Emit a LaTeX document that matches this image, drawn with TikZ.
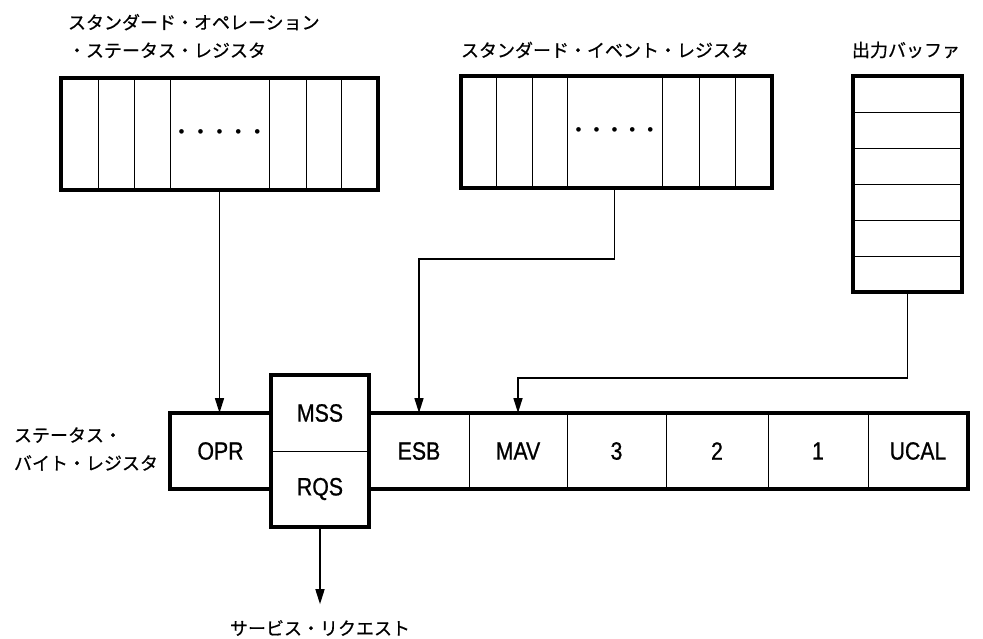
\documentclass[tikz,border=0pt]{standalone}
\usepackage{fontspec}
\setmainfont{Liberation Sans}
\newfontfamily\regfont[FakeStretch=0.85, FakeBold=0.8]{Liberation Sans}
\newfontfamily\jpfont[FakeBold=0.6]{Noto Sans CJK JP}
\usetikzlibrary{positioning, fit, arrows.meta}

\begin{document}
\begin{tikzpicture}[
        x=1pt, y=-1pt,
        node distance=0pt,
        every node/.style={inner sep=0pt, outer sep=0pt},
        bit/.style={draw, line width=0.9pt, minimum height=112pt},
        row/.style={draw, line width=0.9pt, minimum width=109pt, minimum height=36pt},
        cell/.style={draw, line width=0.9pt, minimum height=76pt, font=\regfont\fontsize{25}{25}\selectfont},
        regframe/.style={draw, line width=3.2pt, inner sep=0pt},
        caption/.style={font=\jpfont\fontsize{18}{28}\selectfont, align=left},
        flow/.style={line width=1.6pt, -{Triangle[length=15pt, width=9pt]}},
        dots/.style={font=\fontsize{17}{17}\selectfont},
    ]
        \useasboundingbox (0,0) rectangle (983,638);

        % standard operation status register
        \node[caption, anchor=west] (sosrtitle) at (68,36) {スタンダード・オペレーション\\・ステータス・レジスタ};
        \node[bit, minimum width=37pt, anchor=north west] (op1) at (61,78) {};
        \node[bit, minimum width=36pt, right=of op1] (op2) {};
        \node[bit, minimum width=36pt, right=of op2] (op3) {};
        \node[bit, minimum width=99pt, right=of op3, dots] (op4) {•\hspace{13pt}•\hspace{13pt}•\hspace{13pt}•\hspace{13pt}•};
        \node[bit, minimum width=37pt, right=of op4] (op5) {};
        \node[bit, minimum width=35pt, right=of op5] (op6) {};
        \node[bit, minimum width=37pt, right=of op6] (op7) {};
        \node[regframe, fit={(op1) (op7)}] (sosr) {};

        % standard event register
        \node[caption, anchor=west] (sertitle) at (461,50) {スタンダード・イベント・レジスタ};
        \node[bit, minimum width=35pt, anchor=north west] (ev1) at (461,76) {};
        \node[bit, minimum width=36pt, right=of ev1] (ev2) {};
        \node[bit, minimum width=35pt, right=of ev2] (ev3) {};
        \node[bit, minimum width=95pt, right=of ev3, dots] (ev4) {•\hspace{12pt}•\hspace{12pt}•\hspace{12pt}•\hspace{12pt}•};
        \node[bit, minimum width=37pt, right=of ev4] (ev5) {};
        \node[bit, minimum width=36pt, right=of ev5] (ev6) {};
        \node[bit, minimum width=37pt, right=of ev6] (ev7) {};
        \node[regframe, fit={(ev1) (ev7)}] (ser) {};

        % output buffer
        \node[caption] (buftitle) at (906,50) {出力バッファ};
        \node[row, anchor=north west] (buf1) at (853,76) {};
        \node[row, below=of buf1] (buf2) {};
        \node[row, below=of buf2] (buf3) {};
        \node[row, below=of buf3] (buf4) {};
        \node[row, below=of buf4] (buf5) {};
        \node[row, below=of buf5] (buf6) {};
        \node[regframe, fit={(buf1) (buf6)}] (buf) {};

        % status byte register
        \node[caption, anchor=west] (sbrtitle) at (14,449) {ステータス・\\バイト・レジスタ};
        \node[cell, minimum width=101pt, anchor=north west] (opr) at (170,413) {OPR};
        \node[cell, minimum width=98pt, anchor=south west] (mss) at (opr.east) {MSS};
        \node[cell, minimum width=98pt, below=of mss] (rqs) {RQS};
        \node[cell, minimum width=100pt, anchor=west] (esb) at (rqs.north east) {ESB};
        \node[cell, minimum width=98pt, right=of esb] (mav) {MAV};
        \node[cell, minimum width=99pt, right=of mav] (b3) {3};
        \node[cell, minimum width=102pt, right=of b3] (b2) {2};
        \node[cell, minimum width=100pt, right=of b2] (b1) {1};
        \node[cell, minimum width=100pt, right=of b1] (ucal) {UCAL};
        \node[regframe, fit=(opr)] (oprframe) {};
        \node[regframe, fit={(mss) (rqs)}] (rqsframe) {};
        \node[regframe, fit={(esb) (ucal)}] (stbframe) {};

        \node[caption] (srq) at (320,628) {サービス・リクエスト};

        \draw[flow] (op4.south) -- (op4.south |- opr.north);
        \draw[flow] (ev4.south) -- ++(0,71) -| (esb.north);
        \draw[flow] (buf6.south) -- ++(0,86) -| (mav.north);
        \draw[flow, shorten >=16pt] (rqs.south) -- (srq.north);
    \end{tikzpicture}
\end{document}
